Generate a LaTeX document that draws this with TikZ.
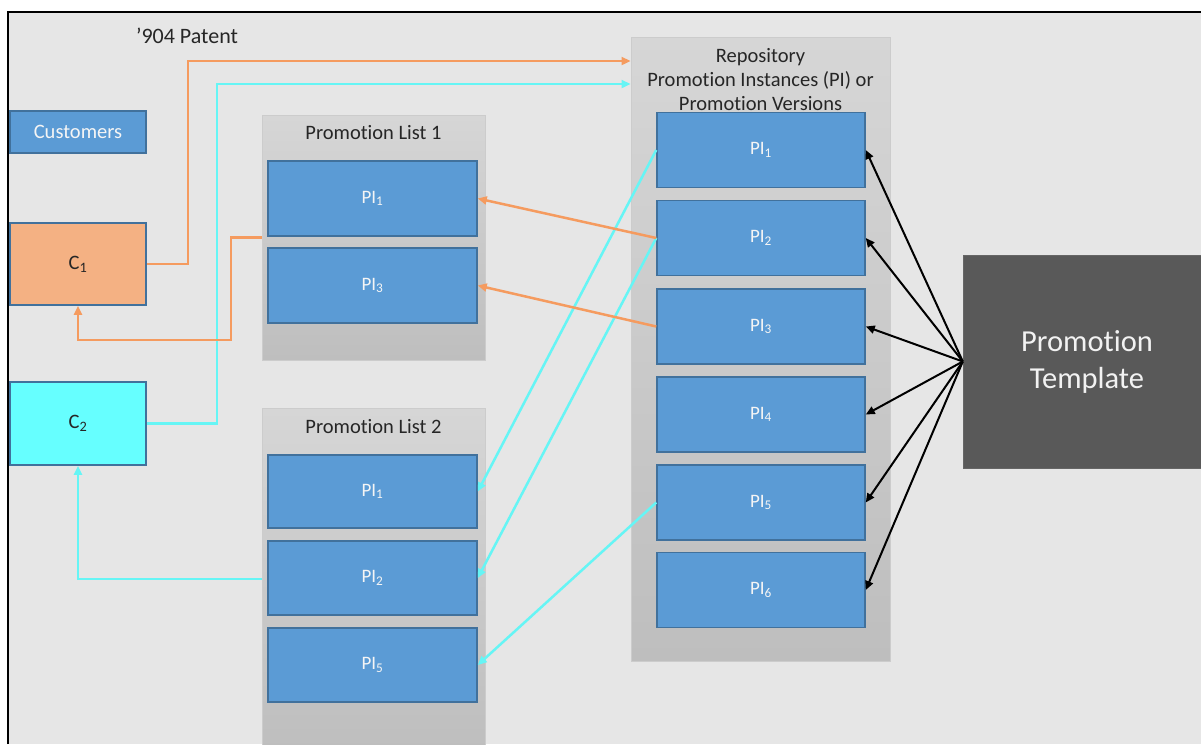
\documentclass[tikz,border=0pt]{standalone}
\usepackage{fontspec}
\setmainfont{Carlito}[Ligatures=NoCommon]
\usepackage{tikz}
\usetikzlibrary{arrows.meta,positioning,calc}
\definecolor{bg}{HTML}{E6E6E6}
\definecolor{piblue}{HTML}{5B9BD5}
\definecolor{piedge}{HTML}{41719C}
\definecolor{cone}{HTML}{F4B183}
\definecolor{ctwo}{HTML}{66FFFF}
\definecolor{oline}{HTML}{F59B5F}
\definecolor{cline}{HTML}{66F5F5}
\definecolor{grtop}{HTML}{D6D6D6}
\definecolor{grbot}{HTML}{BEBEBE}
\definecolor{tmplfill}{HTML}{595959}
\definecolor{ink}{HTML}{262626}
\tikzset{
  >={Triangle[length=9pt,width=8pt]},
  pibox/.style={draw=piedge,fill=piblue,line width=1.5pt,minimum width=209pt,minimum height=75pt,inner sep=0pt,font=\fontsize{19}{21}\selectfont,text=black!4},
  cbox/.style={draw=piedge,line width=1.5pt,minimum width=136pt,inner sep=0pt,font=\fontsize{20.5}{22}\selectfont,text=ink},
  grpbox/.style={draw=black!20,line width=1pt,top color=grtop,bottom color=grbot,inner sep=0pt},
  lab/.style={font=\fontsize{20.5}{24}\selectfont,text=ink,align=center},
  oarr/.style={->,draw=oline,line width=2.5pt},
  carr/.style={->,draw=cline,line width=2.5pt},
  barr/.style={<-,draw=black,line width=2pt},
}
\begin{document}
\begin{tikzpicture}[x=1pt,y=-1pt]
\useasboundingbox (0,0) rectangle (1201,744);
\fill[white] (0,0) rectangle (1201,744);
\fill[bg] (8,12) rectangle (1201,744);
\draw[line width=2pt] (8,744) -- (8,12) -- (1201,12);

\node[lab,font=\fontsize{22}{24}\selectfont] (patent) at (187,36) {'904 Patent};

% customers
\node[cbox,fill=piblue,minimum height=42pt,text=black!4] (cust) at (78,132) {Customers};
\node[cbox,fill=cone,minimum height=82pt] (c1) at (78,264) {C\textsubscript{1}};
\node[cbox,fill=ctwo,minimum height=83pt] (c2) at (78,423.5) {C\textsubscript{2}};

% promotion lists
\node[grpbox,minimum width=223pt,minimum height=245pt] (pl1) at (373.5,237.5) {};
\node[lab] (pl1t) at (373.5,133) {Promotion List 1};
\node[pibox] (pla1) at (372.5,198.5) {PI\textsubscript{1}};
\node[pibox] (pla3) at (372.5,285.5) {PI\textsubscript{3}};

\node[grpbox,minimum width=223pt,minimum height=342pt] (pl2) at (373.5,579) {};
\node[lab] (pl2t) at (373.5,427) {Promotion List 2};
\node[pibox,minimum height=73pt] (plb1) at (372.5,491.5) {PI\textsubscript{1}};
\node[pibox,minimum height=74pt] (plb2) at (372.5,578) {PI\textsubscript{2}};
\node[pibox,minimum height=74pt] (plb5) at (372.5,665) {PI\textsubscript{5}};

% repository
\node[grpbox,minimum width=259pt,minimum height=624pt] (repo) at (760.5,349) {};
\node[lab] (repot) at (760.5,79.5) {Repository\\Promotion Instances (PI) or\\Promotion Versions};
\foreach \i/\y in {1/150,2/238,3/326.5,4/414.5,5/502.5,6/590}
  \node[pibox,minimum width=208pt] (rep\i) at (761,\y) {PI\textsubscript{\i}};

% template
\node[draw=black!60,fill=tmplfill,minimum width=248pt,minimum height=213pt,text=black!5,align=center,font=\fontsize{30.5}{37}\selectfont] (tmpl) at (1087,361.5) {Promotion\\Template};

% connectors
\coordinate (obend) at (188,61);
\coordinate (cbend) at (217,84);
\coordinate (oback) at (231,340);
\draw[oarr] (c1.east) -| (obend) -- (repo.west |- obend);
\draw[carr] (c2.east) -| (cbend) -- (repo.west |- cbend);
\draw[oarr] (pl1.west) -| (oback) -| (c1.south);
\draw[carr] (pl2.west) -| (c2.south);

\draw[carr] (rep1.west) -- (plb1.east);
\draw[carr] (rep2.west) -- (plb2.east);
\draw[carr] (rep5.west) -- (plb5.east);
\draw[oarr] (rep2.west) -- (pla1.east);
\draw[oarr] (rep3.west) -- (pla3.east);

\foreach \i in {1,...,6}
  \draw[barr] (rep\i.east) -- (tmpl.west);
\end{tikzpicture}
\end{document}
